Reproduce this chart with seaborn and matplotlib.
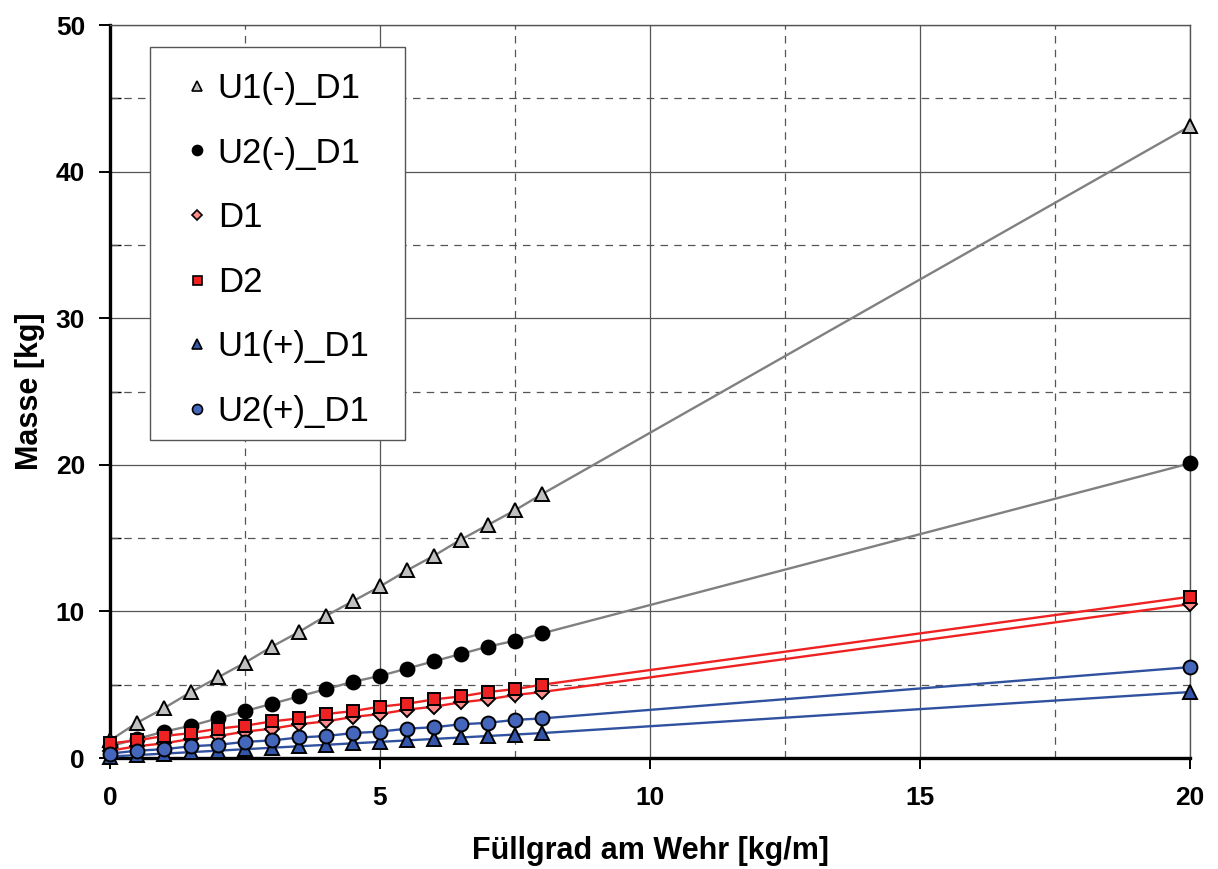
import matplotlib
matplotlib.use("Agg")
import matplotlib.pyplot as plt
from matplotlib.lines import Line2D
from matplotlib.patches import Rectangle
from matplotlib.ticker import MultipleLocator
import seaborn as sns
import numpy as np
import pandas as pd

x_vals = [0, 0.5, 1, 1.5, 2, 2.5, 3, 3.5, 4, 4.5, 5, 5.5, 6, 6.5, 7, 7.5, 8, 20]

u1_minus = [1.2, 2.4, 3.4, 4.5, 5.5, 6.5, 7.6, 8.6, 9.7, 10.7, 11.7, 12.8, 13.8, 14.9, 15.9, 16.9, 18.0, 43.1]
u2_minus = [0.8, 1.3, 1.8, 2.2, 2.7, 3.2, 3.7, 4.2, 4.7, 5.2, 5.6, 6.1, 6.6, 7.1, 7.6, 8.0, 8.5, 20.1]
d1 = [0.5, 0.8, 1.0, 1.3, 1.5, 1.8, 2.0, 2.3, 2.5, 2.8, 3.0, 3.3, 3.5, 3.8, 4.0, 4.3, 4.5, 10.5]
d2 = [1.0, 1.2, 1.5, 1.7, 2.0, 2.2, 2.5, 2.7, 3.0, 3.2, 3.5, 3.7, 4.0, 4.2, 4.5, 4.7, 5.0, 11.0]
u1_plus = [0.1, 0.2, 0.3, 0.4, 0.5, 0.6, 0.7, 0.8, 0.9, 1.0, 1.1, 1.2, 1.3, 1.4, 1.5, 1.6, 1.7, 4.5]
u2_plus = [0.3, 0.5, 0.6, 0.8, 0.9, 1.1, 1.2, 1.4, 1.5, 1.7, 1.8, 2.0, 2.1, 2.3, 2.4, 2.6, 2.7, 6.2]

labels = ["U1(-)_D1", "U2(-)_D1", "D1", "D2", "U1(+)_D1", "U2(+)_D1"]
series = [u1_minus, u2_minus, d1, d2, u1_plus, u2_plus]

line_colors = ["#808080", "#808080", "#ee2222", "#ee2222", "#3050a0", "#3050a0"]
marker_shapes = ["^", "o", "D", "s", "^", "o"]
marker_faces = ["#c0c0c0", "#000000", "#ff8a8a", "#ee2222", "#3355aa", "#4466bb"]
marker_sizes = [10, 10, 7.5, 9, 10, 10]

sns.set_theme(style="white")
plt.rcParams['font.family'] = ['Liberation Sans', 'DejaVu Sans']
plt.rcParams['text.color'] = 'black'
plt.rcParams['axes.labelcolor'] = 'black'
plt.rcParams['xtick.color'] = 'black'
plt.rcParams['ytick.color'] = 'black'

fig = plt.figure(figsize=(12.18, 8.69), dpi=100)
ax = fig.add_axes([110/1218, 1-758/869, (1190-110)/1218, (758-25)/869])

for lab, ys, lc, mk, mf, ms in zip(labels, series, line_colors, marker_shapes, marker_faces, marker_sizes):
    df = pd.DataFrame({"x": x_vals, "y": ys})
    sns.lineplot(data=df, x="x", y="y", ax=ax, color=lc, linewidth=1.7,
                 marker=mk, markersize=ms, markerfacecolor=mf,
                 markeredgecolor="black", markeredgewidth=1.4,
                 estimator=None, sort=False, zorder=3, clip_on=False)

ax.set_xlim(0, 20)
ax.set_ylim(0, 50)
ax.xaxis.set_major_locator(MultipleLocator(5))
ax.xaxis.set_minor_locator(MultipleLocator(2.5))
ax.yaxis.set_major_locator(MultipleLocator(10))
ax.yaxis.set_minor_locator(MultipleLocator(5))

# grid: solid at major, dashed at minor
for xv in [5, 10, 15, 20]:
    ax.axvline(xv, color="#555555", lw=0.9, zorder=1)
for xv in [2.5, 7.5, 12.5, 17.5]:
    ax.axvline(xv, color="#555555", lw=0.9, ls=(0, (6, 5)), zorder=1)
for yv in [10, 20, 30, 40, 50]:
    ax.axhline(yv, color="#555555", lw=0.9, zorder=1)
for yv in [5, 15, 25, 35, 45]:
    ax.axhline(yv, color="#555555", lw=0.9, ls=(0, (6, 5)), zorder=1)

ax.tick_params(axis="both", which="major", direction="out", length=8, width=1.4,
               color="black", labelsize=19, left=True, bottom=True)
ax.tick_params(axis="x", which="major", pad=12)
ax.tick_params(axis="y", which="major", pad=10)
ax.tick_params(axis="y", which="minor", direction="in", length=8, width=1.0, left=True)
ax.tick_params(axis="x", which="minor", length=0)
for t in ax.get_xticklabels() + ax.get_yticklabels():
    t.set_fontweight("bold")

for s in ["left", "bottom"]:
    ax.spines[s].set_color("black")
    ax.spines[s].set_linewidth(2.4)
for s in ["top", "right"]:
    ax.spines[s].set_color("#555555")
    ax.spines[s].set_linewidth(1.0)

ax.set_xlabel("Füllgrad am Wehr [kg/m]", fontsize=22, fontweight="bold", labelpad=19)
ax.set_ylabel("Masse [kg]", fontsize=22, fontweight="bold", labelpad=8)

# legend box
box = Rectangle((40/1080, (758-440)/733), (405-150)/1080, (440-47)/733,
                transform=ax.transAxes, facecolor="white", edgecolor="#555555",
                linewidth=1.0, zorder=4)
ax.add_patch(box)

handles = [Line2D([], [], linestyle="none", marker=mk, markersize=ms * 0.72,
                  markerfacecolor=mf, markeredgecolor="black", markeredgewidth=1.2)
           for mk, mf, ms in zip(marker_shapes, marker_faces, marker_sizes)]
leg = ax.legend(handles, labels, loc="upper left", bbox_to_anchor=(0.0644, 0.936),
                fontsize=25, frameon=False, borderpad=0, labelspacing=0.91,
                handletextpad=0.1, handlelength=1.0, borderaxespad=0)
leg.set_zorder(5)

fig.savefig("out.png", dpi=100, facecolor="white")
